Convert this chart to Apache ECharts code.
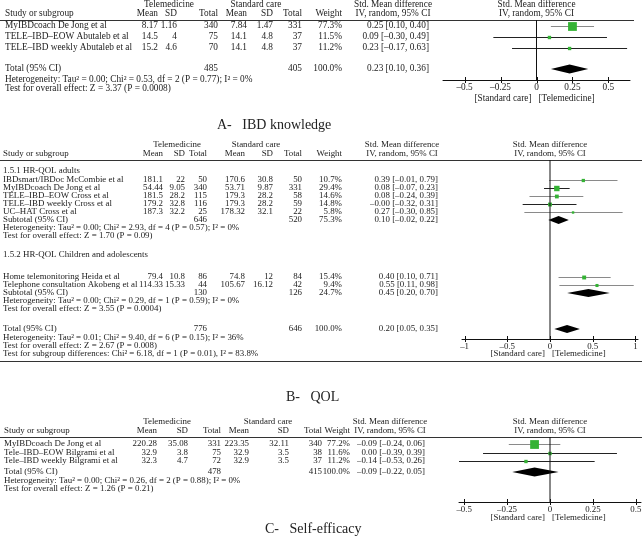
<!DOCTYPE html>
<html><head><meta charset="utf-8">
<script src="https://cdn.jsdelivr.net/npm/echarts@6/dist/echarts.min.js"></script>
<style>html,body{margin:0;padding:0;background:#fff}#c{width:642px;height:541px}</style>
</head><body><div id="c"></div>
<script>
// ================= DATA =================
// ---- A: IBD knowledge ----
const aStudies = ['MyIBDcoach De Jong et al', 'TELE–IBD–EOW Abutaleb et al', 'TELE–IBD weekly Abutaleb et al'];
const aTeleMean = [8.17, 14.5, 15.2];
const aTeleSD = [1.16, 4, 4.6];
const aTeleN = [340, 75, 70];
const aStdMean = [7.84, 14.1, 14.1];
const aStdSD = [1.47, 4.8, 4.8];
const aStdN = [331, 37, 37];
const aWeight = [77.3, 11.5, 11.2];
const aSmd = [0.25, 0.09, 0.23];
const aLo = [0.10, -0.30, -0.17];
const aHi = [0.40, 0.49, 0.63];
const aTotalN = [485, 405];
const aTotalWeight = 100.0;
const aTotalSmd = [0.23, 0.10, 0.36];
const aNotes = ['Heterogeneity: Tau² = 0.00; Chi² = 0.53, df = 2 (P = 0.77); I² = 0%',
                'Test for overall effect: Z = 3.37 (P = 0.0008)'];
const aTicks = [-0.5, -0.25, 0, 0.25, 0.5];
const aTitle = 'A-   IBD knowledge';

// ---- B: QOL ----
const bSubgroups = ['1.5.1 HR-QOL adults', '1.5.2 HR-QOL Children and adolescents'];
const bStudies = ['IBDsmart/IBDoc McCombie et al', 'MyIBDcoach De Jong et al', 'TELE–IBD–EOW Cross et al',
                  'TELE–IBD weekly Cross et al', 'UC–HAT Cross et al', 'Home telemonitoring Heida et al',
                  'Telephone consultation Akobeng et al'];
const bTeleMean = [181.1, 54.44, 181.5, 179.2, 187.3, 79.4, 114.33];
const bTeleSD = [22, 9.05, 28.2, 32.8, 32.2, 10.8, 15.33];
const bTeleN = [50, 340, 115, 116, 25, 86, 44];
const bStdMean = [170.6, 53.71, 179.3, 179.3, 178.32, 74.8, 105.67];
const bStdSD = [30.8, 9.87, 28.2, 28.2, 32.1, 12, 16.12];
const bStdN = [50, 331, 58, 59, 22, 84, 42];
const bWeight = [10.7, 29.4, 14.6, 14.8, 5.8, 15.4, 9.4];
const bSmd = [0.39, 0.08, 0.08, -0, 0.27, 0.40, 0.55];
const bLo = [-0.01, -0.07, -0.24, -0.32, -0.30, 0.10, 0.11];
const bHi = [0.79, 0.23, 0.39, 0.31, 0.85, 0.71, 0.98];
const bSubTeleN = [646, 130];
const bSubStdN = [520, 126];
const bSubWeight = [75.3, 24.7];
const bSubSmd = [0.10, 0.45];
const bSubLo = [-0.02, 0.20];
const bSubHi = [0.22, 0.70];
const bSubHeterogeneity = ['Heterogeneity: Tau² = 0.00; Chi² = 2.93, df = 4 (P = 0.57); I² = 0%',
                           'Heterogeneity: Tau² = 0.00; Chi² = 0.29, df = 1 (P = 0.59); I² = 0%'];
const bSubOverall = ['Test for overall effect: Z = 1.70 (P = 0.09)', 'Test for overall effect: Z = 3.55 (P = 0.0004)'];
const bTotalN = [776, 646];
const bTotalWeight = 100.0;
const bTotalSmd = [0.20, 0.05, 0.35];
const bNotes = ['Heterogeneity: Tau² = 0.01; Chi² = 9.40, df = 6 (P = 0.15); I² = 36%',
                'Test for overall effect: Z = 2.67 (P = 0.008)',
                'Test for subgroup differences: Chi² = 6.18, df = 1 (P = 0.01), I² = 83.8%'];
const bTicks = [-1, -0.5, 0, 0.5, 1];
const bTitle = 'B-   QOL';

// ---- C: Self-efficacy ----
const cStudies = ['MyIBDcoach De Jong et al', 'Tele–IBD–EOW Bilgrami et al', 'Tele–IBD weekly Bilgrami et al'];
const cTeleMean = [220.28, 32.9, 32.3];
const cTeleSD = [35.08, 3.8, 4.7];
const cTeleN = [331, 75, 72];
const cStdMean = [223.35, 32.9, 32.9];
const cStdSD = [32.11, 3.5, 3.5];
const cStdN = [340, 38, 37];
const cWeight = [77.2, 11.6, 11.2];
const cSmd = [-0.09, 0.00, -0.14];
const cLo = [-0.24, -0.39, -0.53];
const cHi = [0.06, 0.39, 0.26];
const cTotalN = [478, 415];
const cTotalWeight = 100.0;
const cTotalSmd = [-0.09, -0.22, 0.05];
const cNotes = ['Heterogeneity: Tau² = 0.00; Chi² = 0.26, df = 2 (P = 0.88); I² = 0%',
                'Test for overall effect: Z = 1.26 (P = 0.21)'];
const cTicks = [-0.5, -0.25, 0, 0.25, 0.5];
const cTitle = 'C-   Self-efficacy';

// ================= LAYOUT / STYLE =================
const FONT = '"Liberation Serif", "DejaVu Serif", serif';
const INK = '#222';
const GREEN = '#34b234';
const LINE_DARK = '#222', LINE_GRAY = '#8a8a8a';
const aLineTone = [1, 0, 0], bLineTone = [1, 0, 1, 0, 1, 1, 1], cLineTone = [1, 0, 0];

const LA = { fs: 9.3, h1: 5, h2: 14, rule: 20, ruleR: 634, rows: [26, 37, 48], total: 69, notes: [80, 88.5],
  cStudy: 5, cols: [158, 177, 218, 247, 273, 302, 342, 429], grp: [169, 256], ciHead: 393,
  plotL: 443, plotR: 630, min: -0.65, max: 0.65, axisY: 80, bracketY: 99, dh: 4.5,
  title: 125, titleX: 217 };
const LB = { fs: 8.9, h1: 145, h2: 154, rule: 160, ruleR: 642,
  sub: [171, 255], rows: [179.5, 187.6, 195.7, 203.8, 211.9, 277, 285], subtotal: [220, 293],
  subNotes: [[228, 236], [301, 309]], total: 329, notes: [338, 346, 354], ruleBottom: 361,
  cStudy: 3, cols: [163, 185, 207, 245, 273, 302, 342, 438], grp: [177, 256], ciHead: 402,
  plotL: 462, plotR: 638, min: -1.03, max: 1.03, axisY: 339, bracketY: 354, dh: 4,
  title: 397, titleX: 286 };
const LC = { fs: 8.9, h1: 422, h2: 431, rule: 437, ruleR: 642, rows: [444, 452.5, 461], total: 472, notes: [481, 489],
  cStudy: 4, cols: [157, 188, 221, 249, 289, 322, 350, 425], grp: [167, 268], ciHead: 390,
  plotL: 459, plotR: 641, min: -0.53, max: 0.53, axisY: 502, bracketY: 518, dh: 4.5,
  title: 529, titleX: 265 };

// ================= HELPERS =================
const fmtNum = v => (v < 0 ? '–' : '') + String(Math.abs(v));
const fmt2 = v => ((v < 0 || Object.is(v, -0)) ? '–' : '') + Math.abs(v).toFixed(2);
const fmtCI = (e, l, h) => fmt2(e) + ' [' + fmt2(l) + ', ' + fmt2(h) + ']';
const fmtW = w => w.toFixed(1) + '%';
const fmtTick = v => (v < 0 ? '–' : '') + String(Math.abs(v));
const zeroX = L => L.plotL + (0 - L.min) / (L.max - L.min) * (L.plotR - L.plotL);

function txt(x, y, s, fs, align, extra) {
  return { type: 'text', x: x, y: y, silent: true,
    style: Object.assign({ text: s, font: fs + 'px ' + FONT, fill: INK,
      align: align || 'left', verticalAlign: 'middle', textAlign: align || 'left', textVerticalAlign: 'middle' }, extra || {}) };
}
function hline(x1, x2, y, color) {
  const yy = Math.round(y) + 0.5;
  return { type: 'line', silent: true, shape: { x1: x1, y1: yy, x2: x2, y2: yy }, style: { stroke: color || '#333', lineWidth: 1 } };
}

const graphics = [], grids = [], xAxes = [], yAxes = [], series = [];

function headers(L) {
  const z = zeroX(L), g = [];
  g.push(txt(L.grp[0], L.h1, 'Telemedicine', L.fs, 'center'));
  g.push(txt(L.grp[1], L.h1, 'Standard care', L.fs, 'center'));
  g.push(txt(L.ciHead, L.h1, 'Std. Mean difference', L.fs, 'center'));
  g.push(txt(z, L.h1, 'Std. Mean difference', L.fs, 'center'));
  g.push(txt(L.cStudy, L.h2, 'Study or subgroup', L.fs, 'left'));
  ['Mean', 'SD', 'Total', 'Mean', 'SD', 'Total', 'Weight'].forEach((s, k) => g.push(txt(L.cols[k], L.h2, s, L.fs, 'right')));
  g.push(txt(L.ciHead, L.h2, 'IV, random, 95% CI', L.fs, 'center'));
  g.push(txt(z, L.h2, 'IV, random, 95% CI', L.fs, 'center'));
  g.push(hline(0, L.ruleR, L.rule, '#333'));
  return g;
}
function row(L, y, name, vals) {
  const g = [txt(L.cStudy, y, name, L.fs, 'left')];
  vals.forEach((v, k) => { if (v !== '') g.push(txt(L.cols[k], y, v, L.fs, 'right')); });
  return g;
}
function footer(L, title) {
  const z = zeroX(L);
  return [
    txt(z - 5, L.bracketY, '[Standard care]', L.fs, 'right'),
    txt(z + 2, L.bracketY, '[Telemedicine]', L.fs, 'left'),
    txt(L.titleX, L.title, title, 14, 'left')
  ];
}

function addPlot(i, L, ciData, diaData, ticks) {
  grids.push({ left: L.plotL, top: L.rule, width: L.plotR - L.plotL, height: L.axisY - L.rule, containLabel: false, outerBoundsMode: 'none' });
  xAxes.push({ gridIndex: i, type: 'value', min: L.min, max: L.max, position: 'bottom',
    axisLine: { show: true, onZero: false, lineStyle: { color: '#111', width: 1 } },
    axisTick: { show: false }, splitLine: { show: false },
    axisLabel: { show: true, customValues: ticks, formatter: fmtTick, fontSize: L.fs, fontFamily: FONT, color: INK, margin: 3 } });
  yAxes.push({ gridIndex: i, type: 'value', min: L.rule, max: L.axisY, inverse: true, show: false });
  // zero (no-effect) line
  series.push({ type: 'line', xAxisIndex: i, yAxisIndex: i, silent: true, symbol: 'none', animation: false,
    lineStyle: { color: '#111', width: 1 }, data: [[0, L.rule], [0, L.axisY]] });
  // tick marks crossing the axis
  series.push({ type: 'custom', xAxisIndex: i, yAxisIndex: i, silent: true, clip: false,
    data: ticks.map(t => [t, L.axisY]), encode: { x: 0, y: 1 },
    renderItem: (p, api) => {
      const c = api.coord([api.value(0), api.value(1)]);
      const x = Math.round(c[0]) + 0.5;
      return { type: 'line', shape: { x1: x, y1: c[1] - 3, x2: x, y2: c[1] + 3 }, style: { stroke: '#111', lineWidth: 1 } };
    } });
  // study CIs + weighted squares
  series.push({ type: 'custom', xAxisIndex: i, yAxisIndex: i, silent: true, clip: false,
    data: ciData, encode: { x: [0, 1, 2], y: 3 },
    renderItem: (p, api) => {
      const a = api.coord([api.value(0), api.value(3)]);
      const b = api.coord([api.value(1), api.value(3)]);
      const c = api.coord([api.value(2), api.value(3)]);
      const yy = Math.round(a[1]) + 0.5;
      const s = Math.max(2, Math.sqrt(api.value(4)));
      return { type: 'group', children: [
        { type: 'line', shape: { x1: a[0], y1: yy, x2: b[0], y2: yy }, style: { stroke: api.value(5) ? LINE_GRAY : LINE_DARK, lineWidth: 1 } },
        { type: 'rect', shape: { x: c[0] - s / 2, y: yy - s / 2, width: s, height: s }, style: { fill: GREEN } }
      ] };
    } });
  // pooled diamonds
  series.push({ type: 'custom', xAxisIndex: i, yAxisIndex: i, silent: true, clip: false,
    data: diaData, encode: { x: [0, 1, 2], y: 3 },
    renderItem: (p, api) => {
      const a = api.coord([api.value(0), api.value(3)]);
      const b = api.coord([api.value(1), api.value(3)]);
      const c = api.coord([api.value(2), api.value(3)]);
      const h = L.dh;
      return { type: 'polygon', shape: { points: [[a[0], a[1]], [c[0], c[1] - h], [b[0], b[1]], [c[0], c[1] + h]] }, style: { fill: '#000' } };
    } });
}

// ---------- Panel A ----------
graphics.push(...headers(LA));
aStudies.forEach((s, k) => graphics.push(...row(LA, LA.rows[k], s,
  [fmtNum(aTeleMean[k]), fmtNum(aTeleSD[k]), String(aTeleN[k]), fmtNum(aStdMean[k]), fmtNum(aStdSD[k]), String(aStdN[k]), fmtW(aWeight[k]), fmtCI(aSmd[k], aLo[k], aHi[k])])));
graphics.push(...row(LA, LA.total, 'Total (95% CI)', ['', '', String(aTotalN[0]), '', '', String(aTotalN[1]), fmtW(aTotalWeight), fmtCI(aTotalSmd[0], aTotalSmd[1], aTotalSmd[2])]));
aNotes.forEach((s, k) => graphics.push(txt(LA.cStudy, LA.notes[k], s, LA.fs, 'left')));
graphics.push(...footer(LA, aTitle));
addPlot(0, LA,
  aStudies.map((s, k) => [aLo[k], aHi[k], aSmd[k], LA.rows[k], aWeight[k], aLineTone[k]]),
  [[aTotalSmd[1], aTotalSmd[2], aTotalSmd[0], LA.total]], aTicks);

// ---------- Panel B ----------
graphics.push(...headers(LB));
bSubgroups.forEach((s, k) => graphics.push(txt(LB.cStudy, LB.sub[k], s, LB.fs, 'left')));
bStudies.forEach((s, k) => graphics.push(...row(LB, LB.rows[k], s,
  [fmtNum(bTeleMean[k]), fmtNum(bTeleSD[k]), String(bTeleN[k]), fmtNum(bStdMean[k]), fmtNum(bStdSD[k]), String(bStdN[k]), fmtW(bWeight[k]), fmtCI(bSmd[k], bLo[k], bHi[k])])));
bSubgroups.forEach((s, k) => {
  graphics.push(...row(LB, LB.subtotal[k], 'Subtotal (95% CI)', ['', '', String(bSubTeleN[k]), '', '', String(bSubStdN[k]), fmtW(bSubWeight[k]), fmtCI(bSubSmd[k], bSubLo[k], bSubHi[k])]));
  graphics.push(txt(LB.cStudy, LB.subNotes[k][0], bSubHeterogeneity[k], LB.fs, 'left'));
  graphics.push(txt(LB.cStudy, LB.subNotes[k][1], bSubOverall[k], LB.fs, 'left'));
});
graphics.push(...row(LB, LB.total, 'Total (95% CI)', ['', '', String(bTotalN[0]), '', '', String(bTotalN[1]), fmtW(bTotalWeight), fmtCI(bTotalSmd[0], bTotalSmd[1], bTotalSmd[2])]));
bNotes.forEach((s, k) => graphics.push(txt(LB.cStudy, LB.notes[k], s, LB.fs, 'left')));
graphics.push(hline(0, 642, LB.ruleBottom, '#333'));
graphics.push(...footer(LB, bTitle));
addPlot(1, LB,
  bStudies.map((s, k) => [bLo[k], bHi[k], bSmd[k], LB.rows[k], bWeight[k], bLineTone[k]]),
  [[bSubLo[0], bSubHi[0], bSubSmd[0], LB.subtotal[0]], [bSubLo[1], bSubHi[1], bSubSmd[1], LB.subtotal[1]],
   [bTotalSmd[1], bTotalSmd[2], bTotalSmd[0], LB.total]], bTicks);

// ---------- Panel C ----------
graphics.push(...headers(LC));
cStudies.forEach((s, k) => graphics.push(...row(LC, LC.rows[k], s,
  [fmtNum(cTeleMean[k]), fmtNum(cTeleSD[k]), String(cTeleN[k]), fmtNum(cStdMean[k]), fmtNum(cStdSD[k]), String(cStdN[k]), fmtW(cWeight[k]), fmtCI(cSmd[k], cLo[k], cHi[k])])));
graphics.push(...row(LC, LC.total, 'Total (95% CI)', ['', '', String(cTotalN[0]), '', '', String(cTotalN[1]), fmtW(cTotalWeight), fmtCI(cTotalSmd[0], cTotalSmd[1], cTotalSmd[2])]));
cNotes.forEach((s, k) => graphics.push(txt(LC.cStudy, LC.notes[k], s, LC.fs, 'left')));
graphics.push(...footer(LC, cTitle));
addPlot(2, LC,
  cStudies.map((s, k) => [cLo[k], cHi[k], cSmd[k], LC.rows[k], cWeight[k], cLineTone[k]]),
  [[cTotalSmd[1], cTotalSmd[2], cTotalSmd[0], LC.total]], cTicks);

const chart = echarts.init(document.getElementById('c'), null, { renderer: 'canvas', width: 642, height: 541 });
chart.setOption({
  backgroundColor: '#fff',
  animation: false,
  grid: grids, xAxis: xAxes, yAxis: yAxes, series: series,
  graphic: { elements: graphics }
});
</script>
</body></html>
